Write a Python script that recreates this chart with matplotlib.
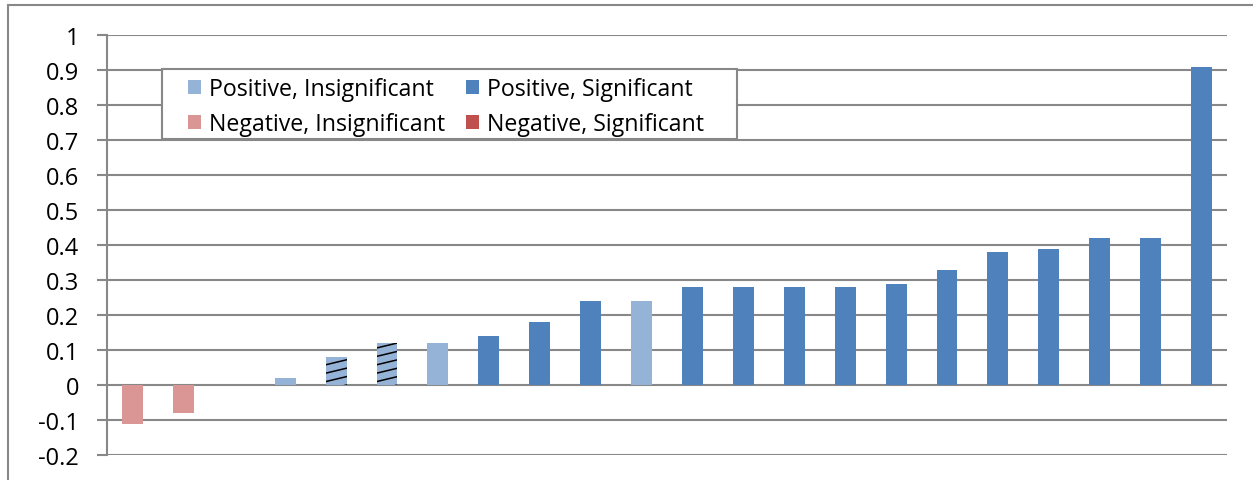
import numpy as np
import matplotlib.pyplot as plt
from matplotlib.patches import Patch, Rectangle

# values, sorted left to right
values = [-0.11, -0.08, 0.0, 0.02, 0.08, 0.12, 0.12, 0.14, 0.18, 0.24, 0.24,
          0.28, 0.28, 0.28, 0.28, 0.29, 0.33, 0.38, 0.39, 0.42, 0.42, 0.91]
# category of each bar: PI = positive insignificant, PS = positive significant,
# NI = negative insignificant, NS = negative significant
groups = ["NI", "NI", "PI", "PI", "PI", "PI", "PI", "PS", "PS", "PS", "PI",
          "PS", "PS", "PS", "PS", "PS", "PS", "PS", "PS", "PS", "PS", "PS"]
hatched = [False, False, False, False, True, True, False, False, False, False, False,
           False, False, False, False, False, False, False, False, False, False, False]
yticks = [-0.2, -0.1, 0, 0.1, 0.2, 0.3, 0.4, 0.5, 0.6, 0.7, 0.8, 0.9, 1]
ytick_labels = ["-0.2", "-0.1", "0", "0.1", "0.2", "0.3", "0.4", "0.5", "0.6", "0.7", "0.8", "0.9", "1"]

colors = {"PI": "#95B3D7", "PS": "#4F81BD", "NI": "#D99694", "NS": "#C0504D"}
legend_names = {"PI": "Positive, Insignificant", "PS": "Positive, Significant",
                "NI": "Negative, Insignificant", "NS": "Negative, Significant"}

plt.rcParams['font.family'] = ['Open Sans', 'DejaVu Sans']

W, H = 1253, 481
fig = plt.figure(figsize=(W / 100, H / 100), dpi=100)
ax = fig.add_axes([107 / W, (H - 456) / H, (1227 - 107) / W, (456 - 36) / H])

# outer chart frame
fig.patches.append(Rectangle((8 / W, -0.1), 2, (H - 6) / H + 0.1, transform=fig.transFigure,
                             fill=False, edgecolor="#888888", linewidth=1.5, zorder=0))

ax.set_xlim(-0.5, len(values) - 0.5)
ax.set_ylim(-0.2, 1.0)

def shallow_hatch(bar, step=0.024, rise=0.0143):
    # Excel-style shallow diagonal hatch, clipped to the bar
    x0, y0 = bar.get_x(), bar.get_y()
    w, h = bar.get_width(), bar.get_height()
    for yy in np.arange(y0 - rise, y0 + h + step, step):
        ln, = ax.plot([x0, x0 + w], [yy, yy + rise], color="black", lw=1.1, zorder=4)
        ln.set_clip_path(bar)

x = np.arange(len(values))
for xi, v, g, h in zip(x, values, groups, hatched):
    bars = ax.bar(xi, v, width=0.41, color=colors[g], edgecolor="none", zorder=3)
    if h:
        shallow_hatch(bars[0])

ax.set_yticks(yticks)
ax.set_yticklabels(ytick_labels, fontsize=17)
ax.set_xticks([])
ax.grid(axis="y", color="#888888", linewidth=1.5, zorder=0)
for side in ["top", "right", "bottom"]:
    ax.spines[side].set_visible(False)
ax.spines["left"].set_color("#888888")
ax.spines["left"].set_linewidth(1.5)
ax.tick_params(axis="y", length=7, width=1.5, color="#888888", pad=13)

# legend box: Excel pads sideways more than vertically, so draw the frame separately
bx0, bx1 = (162 - 107) / (1227 - 107), (737 - 107) / (1227 - 107)
by0, by1 = (456 - 140) / (456 - 36), (456 - 70) / (456 - 36)
ax.add_patch(Rectangle((bx0, by0), bx1 - bx0, by1 - by0, transform=ax.transAxes,
                       facecolor="white", edgecolor="#888888", linewidth=1.5, zorder=6))

order = ["PI", "NI", "PS", "NS"]
handles = [Patch(facecolor=colors[k], edgecolor="none") for k in order]
leg = ax.legend(handles, [legend_names[k] for k in order], ncol=2, fontsize=16.7,
                loc="center", bbox_to_anchor=((bx0 + bx1) / 2 - 0.003, (by0 + by1) / 2 - 0.006),
                frameon=False, handlelength=0.55, handleheight=0.55, handletextpad=0.35,
                columnspacing=0.9, labelspacing=0.5, borderpad=0, borderaxespad=0)
leg.set_zorder(7)

fig.savefig("out.png", dpi=100)
